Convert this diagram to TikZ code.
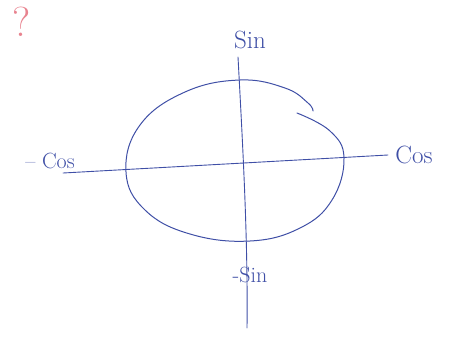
\documentclass[tikz,border=0pt]{standalone}
\usepackage{tikz}
\usetikzlibrary{positioning}
\definecolor{InkBlue}{HTML}{3F4FA6}
\definecolor{InkRed}{HTML}{E8838F}

\begin{document}
\begin{tikzpicture}[x=1pt,y=-1pt,
  axisline/.style={draw=InkBlue,line width=0.9pt,line cap=round},
  inkline/.style={draw=InkBlue,line width=1pt,line cap=round},
  axislabel/.style={text=InkBlue,font=\fontsize{25}{25}\selectfont,inner sep=1pt}]
  \useasboundingbox (0,0) rectangle (462,338);
  % axes
  \coordinate (top) at (238,57);
  \coordinate (bottom) at (247,328);
  \coordinate (left) at (63,173);
  \coordinate (right) at (388,155);
  \draw[axisline] (top) .. controls (243,150) and (248,240) .. (bottom);
  \draw[axisline] (left) -- (right);
  % circle, drawn in one stroke plus a small overlap
  \draw[inkline] plot[smooth,tension=0.7] coordinates {
    (297,113) (330,131) (344,158) (332,200) (300,228) (250,241)
    (190,234) (145,210) (126,172) (140,125) (185,92) (240,80)
    (285,88) (308,103) (313,111)};
  % labels
  \node[axislabel] (sinlabel) at (250,40) {Sin};
  \node[axislabel] (coslabel) at (414,155) {Cos};
  \node[axislabel,font=\fontsize{22}{22}\selectfont] (mcoslabel) at (50,161) {-- Cos};
  \node[axislabel,font=\fontsize{22}{22}\selectfont] (msinlabel) at (250,275) {-Sin};
  \node[text=InkRed,font=\fontsize{42}{42}\selectfont,inner sep=0pt] (query) at (22,22) {?};
\end{tikzpicture}
\end{document}
